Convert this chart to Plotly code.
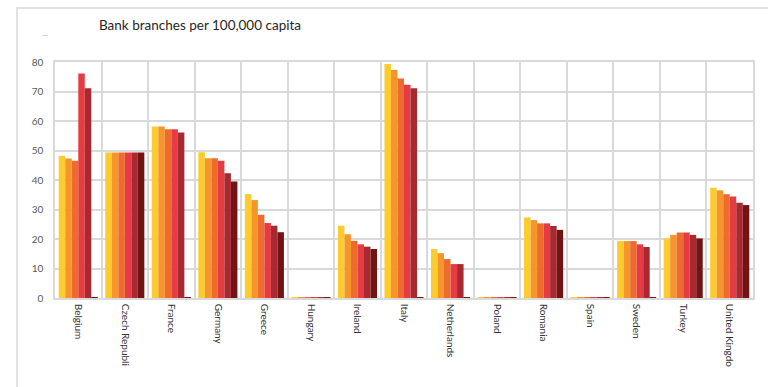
import plotly.graph_objects as go

countries = ["Belgium", "Czech Republic", "France", "Germany", "Greece", "Hungary",
             "Ireland", "Italy", "Netherlands", "Poland", "Romania", "Spain",
             "Sweden", "Turkey", "United Kingdom"]
tick_labels = ["Belgium", "Czech Republi", "France", "Germany", "Greece", "Hungary",
               "Ireland", "Italy", "Netherlands", "Poland", "Romania", "Spain",
               "Sweden", "Turkey", "United Kingdo"]

series_names = ["Series 1", "Series 2", "Series 3", "Series 4", "Series 5", "Series 6"]

s1 = [48.2, 49.3, 58.1, 49.4, 35.2, 0.3, 24.5, 79.3, 16.6, 0.3, 27.3, 0.3, 19.3, 20.2, 37.4]
s2 = [47.3, 49.3, 58.1, 47.4, 33.2, 0.3, 21.6, 77.3, 15.2, 0.3, 26.4, 0.3, 19.3, 21.4, 36.5]
s3 = [46.5, 49.3, 57.2, 47.4, 28.2, 0.3, 19.4, 74.4, 13.2, 0.3, 25.3, 0.3, 19.3, 22.2, 35.2]
s4 = [76.1, 49.3, 57.2, 46.5, 25.4, 0.3, 18.2, 72.3, 11.5, 0.3, 25.3, 0.3, 18.2, 22.2, 34.4]
s5 = [71.1, 49.3, 56.1, 42.3, 24.5, 0.3, 17.4, 71.1, 11.5, 0.3, 24.4, 0.3, 17.3, 21.4, 32.3]
s6 = [0.3, 49.3, 0.3, 39.5, 22.3, 0.3, 16.6, 0.3, 0.3, 0.3, 23.1, 0.3, 0.3, 20.2, 31.5]
all_series = [s1, s2, s3, s4, s5, s6]

colors = ["#FCCB2D", "#F5952B", "#EE6B2E", "#E53B42", "#A82A30", "#721314"]

fig = go.Figure()
for name, vals, col in zip(series_names, all_series, colors):
    fig.add_trace(go.Bar(x=countries, y=vals, name=name,
                         marker=dict(color=col, line=dict(width=0))))

W, H = 768, 387
L, R, T, B = 55, 15, 62, 89
pw, ph = W - L - R, H - T - B

def px(xp):
    return (xp - L) / pw

def py(yp):
    return (H - B - yp) / ph

fig.update_layout(
    width=W, height=H,
    margin=dict(l=L, r=R, t=T, b=B),
    paper_bgcolor="white", plot_bgcolor="white",
    barmode="group", bargap=0.16, bargroupgap=0,
    showlegend=False,
    font=dict(family="Lato, sans-serif", color="#404040"),
    xaxis=dict(
        type="category", tickson="boundaries", showgrid=True,
        gridcolor="#D9D9D9", gridwidth=1.5,
        showline=True, linecolor="#D9D9D9", linewidth=1.5, mirror=True,
        tickmode="array", tickvals=countries, ticktext=tick_labels,
        tickangle=90, ticks="", tickfont=dict(size=10, color="#333333"),
        ticklabelstandoff=2, range=[-0.5, 14.5],
    ),
    yaxis=dict(
        range=[0, 80], dtick=10, showgrid=True, gridcolor="#D9D9D9", gridwidth=1.5,
        zeroline=False, showline=True, linecolor="#D9D9D9", linewidth=1.5, mirror=True,
        ticks="", tickfont=dict(size=10, color="#595959"), ticklabelstandoff=8,
    ),
    shapes=[
        dict(type="rect", xref="paper", yref="paper",
             x0=px(17), x1=px(775), y0=py(395), y1=py(8),
             line=dict(color="#D9D9D9", width=1.5), fillcolor="rgba(0,0,0,0)",
             layer="below"),
    ],
    annotations=[
        dict(text="Bank branches per 100,000 capita", xref="paper", yref="paper",
             x=px(97), y=py(25), xanchor="left", yanchor="middle", showarrow=False,
             font=dict(size=13.5, color="#262626")),
        dict(text="—", xref="paper", yref="paper",
             x=px(45), y=py(35), xanchor="center", yanchor="middle", showarrow=False,
             font=dict(size=8, color="#A8A8D0")),
    ],
)

fig.write_html("out.html")
